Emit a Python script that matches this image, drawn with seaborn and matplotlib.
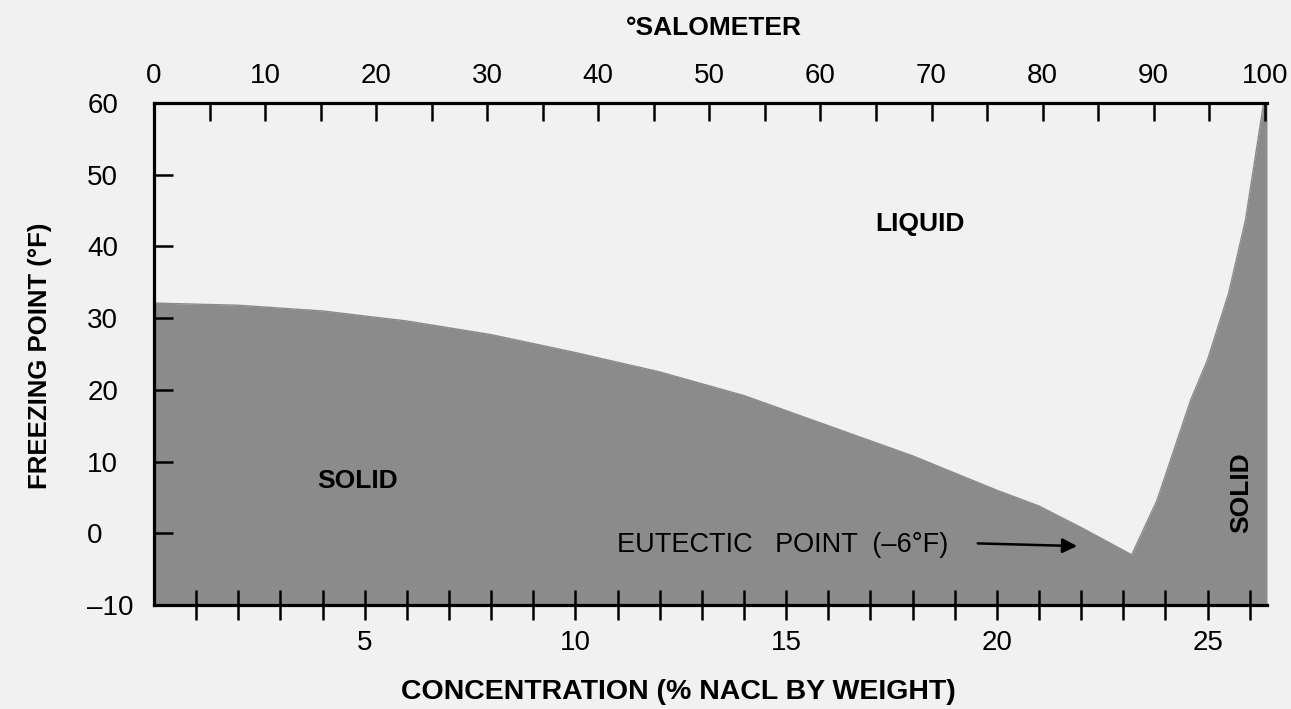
import matplotlib
matplotlib.use("Agg")
import matplotlib.pyplot as plt
from matplotlib import font_manager
import seaborn as sns
import pandas as pd

# ---- data ----
conc_liquidus_ice = [0.0, 2.0, 4.0, 6.0, 8.0, 10.0, 12.0, 14.0, 16.0, 18.0, 20.0, 21.0, 22.0, 23.2]
temp_liquidus_ice = [32.1, 31.8, 31.0, 29.6, 27.7, 25.2, 22.5, 19.2, 15.0, 10.8, 6.0, 3.8, 0.8, -3.0]
conc_liquidus_salt = [23.2, 23.8, 24.6, 25.0, 25.5, 25.9, 26.33, 26.41]
temp_liquidus_salt = [-3.0, 4.6, 18.6, 24.2, 33.5, 43.7, 60.0, 60.0]

bottom_major = [5, 10, 15, 20, 25]
bottom_minor = list(range(1, 27))
top_major = list(range(0, 101, 10))
top_minor = list(range(0, 101, 5))
y_ticks = list(range(-10, 61, 10))

sns.set_theme(style="white")
names = {f.name for f in font_manager.fontManager.ttflist}
base = "Liberation Sans" if "Liberation Sans" in names else "DejaVu Sans"
plt.rcParams["font.family"] = [base, "DejaVu Sans"]
plt.rcParams["axes.unicode_minus"] = True
plt.rcParams["text.color"] = "black"
plt.rcParams["axes.labelcolor"] = "black"
plt.rcParams["xtick.color"] = "black"
plt.rcParams["ytick.color"] = "black"

BG = "#f1f1f1"
FILL = "#8b8b8b"

fig = plt.figure(figsize=(12.91, 7.09), dpi=100, facecolor=BG)
ax = fig.add_axes([0.1193, 0.1467, 0.8621, 0.708])
ax.set_facecolor(BG)
ax.set_axisbelow(False)

df = pd.DataFrame({
    "conc": conc_liquidus_ice + conc_liquidus_salt[1:],
    "temp": temp_liquidus_ice + temp_liquidus_salt[1:],
})
ax.fill_between(df["conc"], -10, df["temp"], color=FILL, linewidth=0, zorder=1)
sns.lineplot(data=df, x="conc", y="temp", ax=ax, color=FILL, lw=1, sort=False,
             estimator=None, zorder=2)

ax.set_xlim(0, 26.41)
ax.set_ylim(-10, 60)

for s in ["right", "top"]:
    ax.spines[s].set_visible(False)
for s in ["left", "bottom"]:
    ax.spines[s].set_linewidth(2.3)
    ax.spines[s].set_color("black")
    ax.spines[s].set_zorder(5)

ax.set_xticks(bottom_major)
ax.set_xticks(bottom_minor, minor=True)
ax.set_xticklabels([str(v) for v in bottom_major])
ax.tick_params(axis="x", which="both", direction="inout", length=22, width=1.8,
               color="black", labelcolor="black", bottom=True, top=False, pad=7,
               labelsize=20)

ax.set_yticks(y_ticks)
ax.set_yticklabels([("\u2013" + str(-v)) if v < 0 else str(v) for v in y_ticks])
ax.tick_params(axis="y", which="both", direction="in", length=14, width=1.8,
               color="black", labelcolor="black", left=True, right=False, pad=48,
               labelsize=20)
for lbl in ax.get_yticklabels():
    lbl.set_horizontalalignment("left")

ax.set_xlabel("CONCENTRATION (% NACL BY WEIGHT)", fontsize=20.5, fontweight="bold")
ax.xaxis.set_label_coords(0.471, -0.173)
ax.set_ylabel("FREEZING POINT (\u00b0F)", fontsize=18.5, fontweight="bold")
ax.yaxis.set_label_coords(-0.1024, 0.496)
ax.xaxis.label.set_va("center")
ax.yaxis.label.set_va("center")

top = ax.twiny()
top.set_xlim(0, 100.2)
top.set_xticks(top_major)
top.set_xticks(top_minor, minor=True)
top.tick_params(axis="x", which="both", direction="in", length=13, width=1.8,
                color="black", labelcolor="black", top=True, bottom=False, pad=10,
                labelsize=20)
for s in ["left", "right", "bottom"]:
    top.spines[s].set_visible(False)
top.spines["top"].set_linewidth(2.3)
top.spines["top"].set_color("black")
top.set_xlabel("\u00b0SALOMETER", fontsize=19, fontweight="bold")
top.xaxis.set_label_coords(0.503, 1.149)
top.xaxis.label.set_va("center")

ax.text(18.18, 43.1, "LIQUID", fontsize=19, fontweight="bold", ha="center", va="center")
ax.text(4.82, 7.3, "SOLID", fontsize=19, fontweight="bold", ha="center", va="center")
ax.text(25.79, 5.6, "SOLID", fontsize=19, fontweight="bold", ha="center", va="center",
        rotation=90)
ax.text(10.99, -1.6, "EUTECTIC   POINT  (\u20136\u00b0F)", fontsize=19.5,
        ha="left", va="center")
ax.annotate("", xy=(21.97, -1.8), xytext=(19.48, -1.4),
            arrowprops=dict(arrowstyle="-|>", color="black", lw=1.8, mutation_scale=22))

fig.savefig("out.png", dpi=100, facecolor=BG)
